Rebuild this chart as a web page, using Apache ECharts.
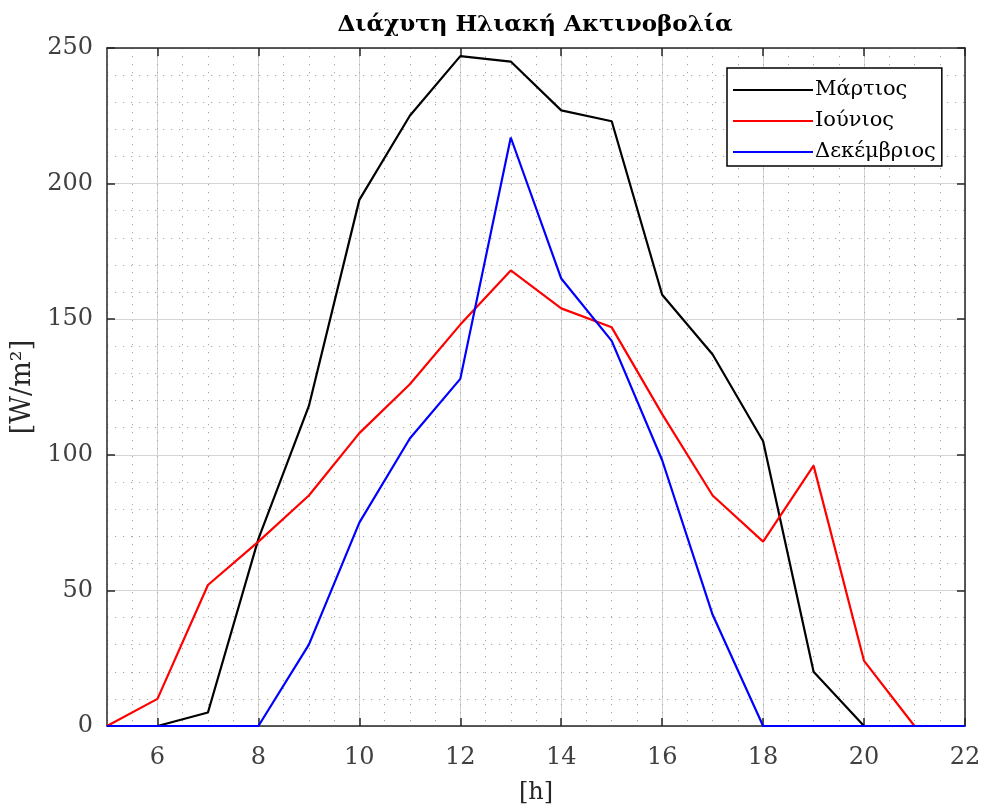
<!DOCTYPE html>
<html>
<head>
<meta charset="utf-8">
<script src="https://cdn.jsdelivr.net/npm/echarts@6/dist/echarts.min.js"></script>
<style>
html,body{margin:0;padding:0;background:#fff;}
#chart{width:984px;height:809px;}
</style>
</head>
<body>
<div id="chart"></div>
<script>
const hours = [5,6,7,8,9,10,11,12,13,14,15,16,17,18,19,20,21,22];
const march = [0,0,5,69,118,194,225,247,245,227,223,159,137,105,20,0,0,0];
const june = [0,10,52,68,85,108,126,148,168,154,147,115,85,68,96,24,0,0];
const december = [0,0,0,0,30,75,106,128,217,165,142,98,41,0,0,0,0,0];
const xTicks = [6,8,10,12,14,16,18,20,22];
const seriesNames = ['Μάρτιος','Ιούνιος','Δεκέμβριος'];
const titleText = 'Διάχυτη Ηλιακή Ακτινοβολία';
const xName = '[h]';
const yName = '[W/m²]';

const FONT = '"DejaVu Serif", serif';
const pairs = arr => hours.map((h,i) => [h, arr[i]]);
const axisCol = '#262626';
const majorGrid = {show:true, lineStyle:{color:'#d4d4d4', width:1, type:'solid'}};
const minorGrid = {show:true, lineStyle:{color:'#a8a8a8', width:1, type:[1.2,6.8]}};

const chart = echarts.init(document.getElementById('chart'), null, {renderer:'canvas'});
chart.setOption({
  animation:false,
  backgroundColor:'#fff',
  title:{text:titleText, left:530, textAlign:'center', top:9,
    textStyle:{fontFamily:FONT, fontWeight:'bold', fontSize:23, color:'#000'}},
  grid:{left:107, right:19, top:48, bottom:83, containLabel:false, outerBoundsMode:'none'},
  legend:{
    data:seriesNames, orient:'vertical', left:727, top:68,
    backgroundColor:'#fff', borderColor:'#000', borderWidth:1.5, borderRadius:0,
    padding:[11,6,3,6], icon:'rect', itemWidth:80, itemHeight:2, itemGap:9,
    textStyle:{fontFamily:FONT, fontSize:21, lineHeight:22, color:'#000', padding:[0,0,0,-3]}
  },
  xAxis:[
    {type:'value', min:5, max:22, position:'bottom',
     name:xName, nameLocation:'middle', nameGap:55,
     nameTextStyle:{fontFamily:FONT, fontSize:24, color:axisCol},
     axisLine:{show:true, onZero:false, lineStyle:{color:axisCol, width:1.5}},
     axisTick:{show:true, inside:true, length:8, customValues:xTicks, lineStyle:{color:axisCol, width:1.5}},
     axisLabel:{show:true, customValues:xTicks, margin:20, fontFamily:FONT, fontSize:24, color:'#404040'},
     splitLine:majorGrid},
    {type:'value', min:5, max:22, position:'top',
     axisLine:{show:true, onZero:false, lineStyle:{color:axisCol, width:1.5}},
     axisTick:{show:true, inside:true, length:8, customValues:xTicks, lineStyle:{color:axisCol, width:1.5}},
     axisLabel:{show:false}, splitLine:{show:false}},
    {type:'value', min:5, max:22, interval:0.5, position:'bottom',
     axisLine:{show:false}, axisTick:{show:false}, axisLabel:{show:false},
     splitLine:minorGrid}
  ],
  yAxis:[
    {type:'value', min:0, max:250, interval:50, position:'left',
     name:yName, nameLocation:'middle', nameGap:61, nameRotate:90,
     nameTextStyle:{fontFamily:FONT, fontSize:27, color:axisCol},
     axisLine:{show:true, onZero:false, lineStyle:{color:axisCol, width:1.5}},
     axisTick:{show:true, inside:true, length:8, lineStyle:{color:axisCol, width:1.5}},
     axisLabel:{show:true, margin:14, fontFamily:FONT, fontSize:24, color:'#404040'},
     splitLine:majorGrid,
     minorTick:{show:false, splitNumber:5},
     minorSplitLine:minorGrid},
    {type:'value', min:0, max:250, interval:50, position:'right',
     axisLine:{show:true, onZero:false, lineStyle:{color:axisCol, width:1.5}},
     axisTick:{show:true, inside:true, length:8, lineStyle:{color:axisCol, width:1.5}},
     axisLabel:{show:false}, splitLine:{show:false}}
  ],
  series:[
    {name:seriesNames[0], type:'line', xAxisIndex:0, yAxisIndex:0, data:pairs(march),
     symbol:'none', color:'#000', lineStyle:{color:'#000', width:2.2}},
    {name:seriesNames[1], type:'line', xAxisIndex:0, yAxisIndex:0, data:pairs(june),
     symbol:'none', color:'#ff0000', lineStyle:{color:'#ff0000', width:2.2}},
    {name:seriesNames[2], type:'line', xAxisIndex:0, yAxisIndex:0, data:pairs(december),
     symbol:'none', color:'#0000ff', lineStyle:{color:'#0000ff', width:2.2}}
  ]
});
</script>
</body>
</html>
